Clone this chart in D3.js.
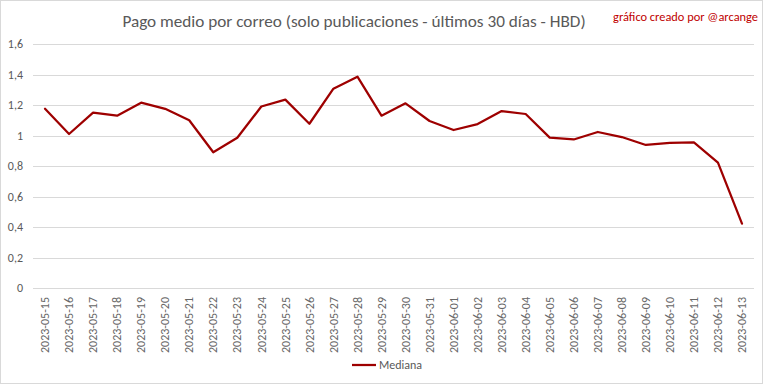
<!DOCTYPE html>
<html>
<head>
<meta charset="utf-8">
<script src="https://cdn.jsdelivr.net/npm/d3@7"></script>
<style>
  html, body { margin: 0; padding: 0; background: #fff; }
  svg { display: block; }
</style>
</head>
<body>
<script>
const dates = ["2023-05-15","2023-05-16","2023-05-17","2023-05-18","2023-05-19","2023-05-20","2023-05-21","2023-05-22","2023-05-23","2023-05-24","2023-05-25","2023-05-26","2023-05-27","2023-05-28","2023-05-29","2023-05-30","2023-05-31","2023-06-01","2023-06-02","2023-06-03","2023-06-04","2023-06-05","2023-06-06","2023-06-07","2023-06-08","2023-06-09","2023-06-10","2023-06-11","2023-06-12","2023-06-13"];
const mediana = [1.175,1.01,1.15,1.13,1.215,1.175,1.10,0.89,0.985,1.19,1.235,1.077,1.307,1.386,1.13,1.211,1.095,1.036,1.075,1.16,1.141,0.986,0.974,1.023,0.99,0.938,0.951,0.955,0.822,0.422];
const yTicks = [0,0.2,0.4,0.6,0.8,1,1.2,1.4,1.6];
const titleText = "Pago medio por correo (solo publicaciones - últimos 30 días - HBD)";
const creditText = "gráfico creado por @arcange";
const seriesName = "Mediana";

const W = 768, H = 384;
const margin = {left: 33, right: 14, top: 44, bottom: 96};
const svg = d3.select("body").append("svg").attr("width", W).attr("height", H);
const font = "Carlito, Calibri, Lato, 'Open Sans', sans-serif";

svg.append("rect").attr("x",0.5).attr("y",0.5).attr("width",W-6).attr("height",H-1)
  .attr("fill","#fff").attr("stroke","#d9d9d9");

const x = d3.scaleBand().domain(dates).range([margin.left, W - margin.right]);
const y = d3.scaleLinear().domain([0,1.6]).range([H - margin.bottom, margin.top]);

const fmt = v => d3.format("")(+v.toFixed(1)).replace(".", ",");

// gridlines
svg.append("g").selectAll("line").data(yTicks).join("line")
  .attr("x1", margin.left).attr("x2", W - margin.right)
  .attr("y1", d => Math.round(y(d)) + 0.5).attr("y2", d => Math.round(y(d)) + 0.5)
  .attr("stroke", "#d9d9d9").attr("stroke-width", 1);

// y axis
const yAxis = svg.append("g").attr("transform", `translate(${margin.left},0)`)
  .call(d3.axisLeft(y).tickValues(yTicks).tickSize(0).tickPadding(10).tickFormat(fmt));
yAxis.select(".domain").remove();
yAxis.selectAll("text").attr("fill","#595959").style("font-family", font).style("font-size","12px");

// x axis
const xAxis = svg.append("g").attr("transform", `translate(0,${H - margin.bottom})`)
  .call(d3.axisBottom(x).tickSize(0).tickPadding(0));
xAxis.select(".domain").remove();
xAxis.selectAll("text")
  .attr("fill","#666").style("font-family", font).style("font-size","12px")
  .attr("transform","rotate(-90)")
  .attr("text-anchor","end")
  .attr("x",-9).attr("y",0).attr("dy","0.35em");

// line
const line = d3.line().x((d,i) => x(dates[i]) + x.bandwidth()/2).y(d => y(d));
svg.append("path").datum(mediana).attr("d", line)
  .attr("fill","none").attr("stroke","#9e0000").attr("stroke-width",2.25)
  .attr("stroke-linejoin","round").attr("stroke-linecap","round");

// title
svg.append("text").attr("x", 354).attr("y", 27).attr("text-anchor","middle")
  .attr("fill","#595959").style("font-family", font).style("font-size","17.2px")
  .text(titleText);
svg.append("text").attr("x", 758).attr("y", 21).attr("text-anchor","end")
  .attr("fill","#c00000").style("font-family", font).style("font-size","12.4px")
  .text(creditText);

// legend
const lg = svg.append("g");
lg.append("line").attr("x1",352).attr("x2",376).attr("y1",365).attr("y2",365)
  .attr("stroke","#9e0000").attr("stroke-width",2.25);
lg.append("text").attr("x",379).attr("y",365).attr("dy","0.35em")
  .attr("fill","#595959").style("font-family", font).style("font-size","12px")
  .text(seriesName);
</script>
</body>
</html>
